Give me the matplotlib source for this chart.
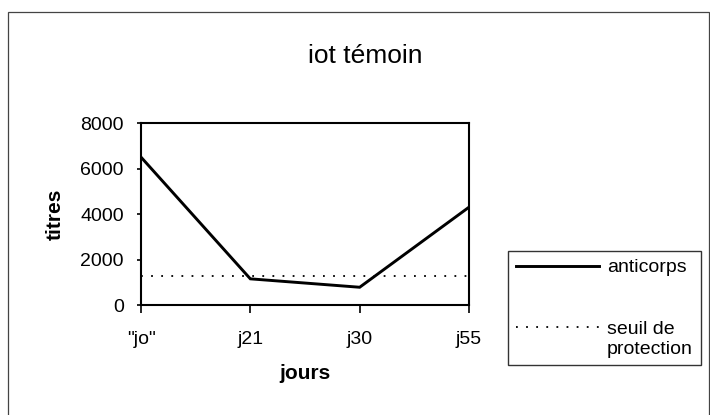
import matplotlib
matplotlib.use("Agg")
import matplotlib.pyplot as plt
from matplotlib.patches import Rectangle
from matplotlib.legend_handler import HandlerLine2D

categories = ['"jo"', "j21", "j30", "j55"]
anticorps = [6500, 1150, 780, 4300]
seuil = [1280, 1280, 1280, 1280]
yticks = [0, 2000, 4000, 6000, 8000]

plt.rcParams['font.family'] = ['Liberation Sans', 'DejaVu Sans']

fig = plt.figure(figsize=(7.1, 4.15), dpi=100)
ax = fig.add_axes([141/710, 1-305/415, (469-141)/710, (305-123)/415])

x = list(range(len(categories)))
l1, = ax.plot(x, anticorps, color="black", lw=2.1, solid_joinstyle="miter")
l2, = ax.plot(x, seuil, color="black", lw=1.3, linestyle=(0, (1, 4.6)))

ax.set_xlim(0, len(categories) - 1)
ax.set_ylim(0, 8000)
ax.set_yticks(yticks)
ax.set_yticklabels([str(v) for v in yticks], fontsize=14)
ax.set_xticks(x)
ax.set_xticklabels(categories, fontsize=14)
ax.tick_params(axis="y", direction="out", length=3, width=1.2, pad=9.5)
ax.tick_params(axis="x", direction="out", length=6, width=1.2, pad=12.5)
for s in ax.spines.values():
    s.set_linewidth(1.5)
ax.set_xlabel("jours", fontsize=15, fontweight="bold", labelpad=12)
ax.set_ylabel("titres", fontsize=15, fontweight="bold", labelpad=11)

fig.text(365/710, 1-63/415, "iot témoin", ha="center", va="baseline", fontsize=19)


class ShiftedHandler(HandlerLine2D):
    def __init__(self, shift=0.0, **kw):
        super().__init__(**kw)
        self.shift = shift

    def create_artists(self, legend, orig_handle, xdescent, ydescent,
                       width, height, fontsize, trans):
        arts = super().create_artists(legend, orig_handle, xdescent, ydescent,
                                      width, height, fontsize, trans)
        for a in arts:
            a.set_ydata([y + self.shift for y in a.get_ydata()])
        return arts


leg = fig.legend([l1, l2], ["anticorps", "seuil de\nprotection"],
                 loc="upper left", bbox_to_anchor=(508/710, 1-251/415),
                 fontsize=14, frameon=True, fancybox=False, handlelength=4.3,
                 handletextpad=0.4, labelspacing=2.3, borderpad=0.4,
                 borderaxespad=0,
                 handler_map={l2: ShiftedHandler(shift=8.6)})
leg.get_frame().set_edgecolor("black")
leg.get_frame().set_linewidth(1.0)

fig.patches.append(Rectangle((8/710, -0.01), 0.998 - 8/710, 1 - 12/415 + 0.01,
                             transform=fig.transFigure, fill=False,
                             edgecolor="#444444", lw=0.9))

fig.savefig("out.png", dpi=100)
